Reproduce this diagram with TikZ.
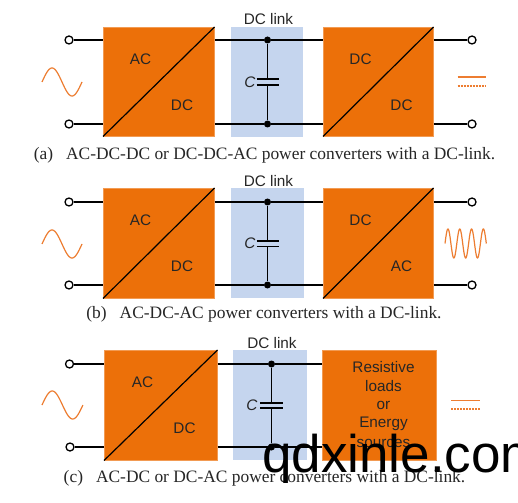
\documentclass[tikz,border=0pt]{standalone}
\usepackage{fontspec}
\setmainfont{Liberation Serif}
\setsansfont{Liberation Sans}
\definecolor{conv}{HTML}{EC7009}
\definecolor{linkblue}{HTML}{C5D5EE}
\definecolor{wave}{HTML}{ED7D31}
\tikzset{
  x=1pt,y=-1pt,
  convbox/.style={draw=conv!70!white,line width=.5pt,fill=conv,inner sep=0pt,anchor=north west},
  linkbox/.style={fill=linkblue,inner sep=0pt,anchor=north west},
  lbl/.style={font=\sffamily\fontsize{15.3}{17}\selectfont,text=black!85,inner sep=0pt},
  ital/.style={font=\sffamily\itshape\fontsize{15.3}{17}\selectfont,text=black!85,inner sep=0pt},
  captext/.style={font=\rmfamily\fontsize{17.4}{19}\selectfont,text=black!85,inner sep=0pt},
  term/.style={circle,draw=black,fill=white,line width=1.3pt,minimum size=8pt,inner sep=0pt},
  junction/.style={circle,fill=black,minimum size=7pt,inner sep=0pt},
  wire/.style={line width=1.7pt,black},
  thin wire/.style={line width=1.2pt,black},
  plate/.style={line width=1.5pt,black},
  wavey/.style={wave,line width=1.2pt},
}
\begin{document}
\begin{tikzpicture}
\useasboundingbox (0,0) rectangle (518,502);
\clip (0,0) rectangle (518,502);
\fill[white] (0,0) rectangle (518,502);

% ---------- panel a
\node[linkbox,minimum width=72pt,minimum height=110pt] (la) at (231,27) {};
\node[convbox,minimum width=111pt,minimum height=109pt] (a1) at (103,27) {};
\node[convbox,minimum width=110pt,minimum height=109pt] (a2) at (323,27) {};
\node[term] (ta1) at (69,40) {};
\node[term] (tb1) at (69,124) {};
\node[term] (ta2) at (472,40) {};
\node[term] (tb2) at (472,124) {};
\node[junction] (ja) at (267.5,40) {};
\node[junction] (jb) at (267.5,124) {};
\coordinate (pa) at (267.5,79);
\coordinate (pb) at (267.5,85);
\draw[wire] (ta1) -- (a1.west |- ta1);
\draw[wire] (tb1) -- (a1.west |- tb1);
\draw[wire] (a1.east |- ja) -- (ja) -- (a2.west |- ja);
\draw[wire] (a1.east |- jb) -- (jb) -- (a2.west |- jb);
\draw[wire] (a2.east |- ta2) -- (ta2);
\draw[wire] (a2.east |- tb2) -- (tb2);
\draw[thin wire] (ja) -- (pa);
\draw[thin wire] (pb) -- (jb);
\draw[plate] ([xshift=-11pt]pa) -- ([xshift=11pt]pa);
\draw[plate] ([xshift=-11pt]pb) -- ([xshift=11pt]pb);
\draw[thin wire] (a1.south west) -- (a1.north east);
\draw[thin wire] (a2.south west) -- (a2.north east);
\node[lbl] at (140.5,59) {AC};
\node[lbl] at (182,105) {DC};
\node[lbl] at (360.5,59) {DC};
\node[lbl] at (401.5,105) {DC};
\node[lbl] at (268.5,19) {DC link};
\node[ital] at (250,82) {C};
\draw[wavey,domain=0:360,samples=60,smooth] plot ({42+\x/9},{82-14*sin(\x)});
\draw[wavey] (457.5,77) -- (486,77);
\draw[wavey,dash pattern=on 2pt off 1pt] (457.5,86) -- (486,86);
\node[captext] at (264.5,155) {(a)\hspace{13pt}AC-DC-DC or DC-DC-AC power converters with a DC-link.};

% ---------- panel b
\node[linkbox,minimum width=73pt,minimum height=110pt] (lb) at (231,188) {};
\node[convbox,minimum width=111pt,minimum height=110pt] (b1) at (103,188) {};
\node[convbox,minimum width=110pt,minimum height=110pt] (b2) at (323,188) {};
\node[term] (tc1) at (69,202) {};
\node[term] (td1) at (69,285) {};
\node[term] (tc2) at (472,202) {};
\node[term] (td2) at (472,285) {};
\node[junction] (jc) at (267.5,202) {};
\node[junction] (jd) at (267.5,285) {};
\coordinate (pc) at (267.5,241);
\coordinate (pd) at (267.5,246.5);
\draw[wire] (tc1) -- (b1.west |- tc1);
\draw[wire] (td1) -- (b1.west |- td1);
\draw[wire] (b1.east |- jc) -- (jc) -- (b2.west |- jc);
\draw[wire] (b1.east |- jd) -- (jd) -- (b2.west |- jd);
\draw[wire] (b2.east |- tc2) -- (tc2);
\draw[wire] (b2.east |- td2) -- (td2);
\draw[thin wire] (jc) -- (pc);
\draw[thin wire] (pd) -- (jd);
\draw[plate] ([xshift=-11pt]pc) -- ([xshift=11pt]pc);
\draw[plate] ([xshift=-11pt]pd) -- ([xshift=11pt]pd);
\draw[thin wire] (b1.south west) -- (b1.north east);
\draw[thin wire] (b2.south west) -- (b2.north east);
\node[lbl] at (140.5,220) {AC};
\node[lbl] at (182,266) {DC};
\node[lbl] at (360.5,220) {DC};
\node[lbl] at (401.5,266) {AC};
\node[lbl] at (268.5,181) {DC link};
\node[ital] at (250,243.5) {C};
\draw[wavey,domain=0:360,samples=60,smooth] plot ({42+\x/9},{244-14*sin(\x)});
\draw[wavey,domain=0:1260,samples=160,smooth] plot ({445+\x/30.5},{243.5-14.5*sin(\x)});
\node[captext] at (264,314) {(b)\hspace{13pt}AC-DC-AC power converters with a DC-link.};

% ---------- panel c
\node[linkbox,minimum width=74pt,minimum height=110pt] (lc) at (233,350) {};
\node[convbox,minimum width=113pt,minimum height=110pt] (c1) at (104,350) {};
\node[convbox,minimum width=114pt,minimum height=110pt,align=center] (c2) at (322,350) {};
\node[term] (te1) at (69.5,364) {};
\node[term] (tf1) at (70,447) {};
\node[junction] (je) at (271.5,364) {};
\node[junction] (jf) at (271.5,447) {};
\coordinate (pe) at (271.5,403);
\coordinate (pf) at (271.5,408);
\draw[wire] (te1) -- (c1.west |- te1);
\draw[wire] (tf1) -- (c1.west |- tf1);
\draw[wire] (c1.east |- je) -- (je) -- (c2.west |- je);
\draw[wire] (c1.east |- jf) -- (jf) -- (c2.west |- jf);
\draw[thin wire] (je) -- (pe);
\draw[thin wire] (pf) -- (jf);
\draw[plate] ([xshift=-11.5pt]pe) -- ([xshift=11.5pt]pe);
\draw[plate] ([xshift=-11.5pt]pf) -- ([xshift=11.5pt]pf);
\draw[thin wire] (c1.south west) -- (c1.north east);
\node[lbl] at (142.5,382) {AC};
\node[lbl] at (184.5,428) {DC};
\node[lbl] at (272,343) {DC link};
\node[ital] at (252,405) {C};
\node[lbl] at (383.5,367) {Resistive};
\node[lbl] at (383.5,386) {loads};
\node[lbl] at (383.5,405) {or};
\node[lbl] at (383.5,424) {Energy};
\node[lbl] at (383.5,443) {sources};
\draw[wavey,domain=0:360,samples=60,smooth] plot ({42+\x/8.8},{405-14*sin(\x)});
\draw[wavey] (451,400.5) -- (480,400.5);
\draw[wavey,dash pattern=on 2pt off 1pt] (451,409) -- (480,409);
\node[captext] at (264.5,478) {(c)\hspace{13pt}AC-DC or DC-AC power converters with a DC-link.};

% ---------- watermark
\node[font=\sffamily\fontsize{53}{53}\selectfont,text=black,inner sep=0pt,anchor=base west] at (262,472) {qdxinle.com};
\end{tikzpicture}
\end{document}
